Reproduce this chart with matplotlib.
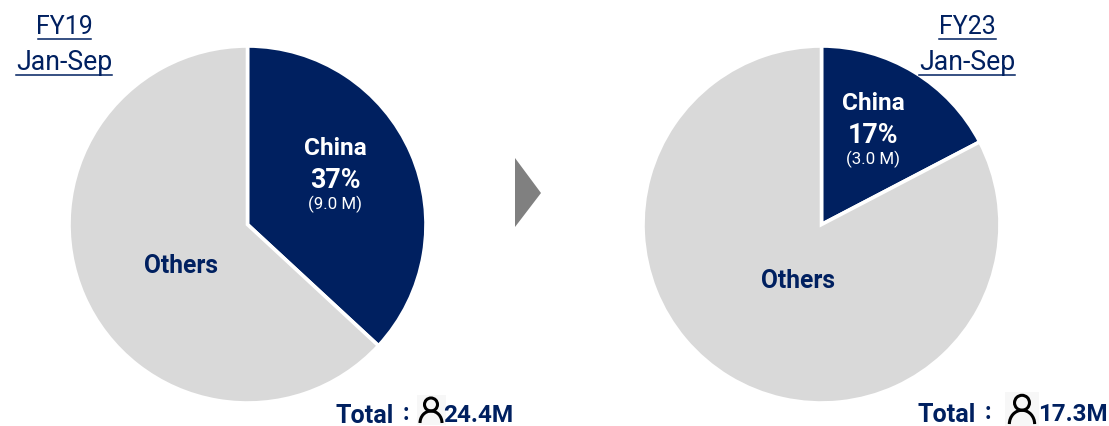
import matplotlib
matplotlib.use("Agg")
import matplotlib.pyplot as plt
from matplotlib.patches import Polygon, Circle, Rectangle, Arc
from matplotlib.lines import Line2D

W, H = 1109, 427
NAVY = "#002060"
GREY = "#D9D9D9"

# Visitors in millions, China first
periods = ["FY19", "FY23"]
sub_period = "Jan-Sep"
china_visitors = [9.0, 3.0]
other_visitors = [15.4, 14.3]
china_share = ["37%", "17%"]
china_count = ["(9.0 M)", "(3.0 M)"]
totals = ["24.4M", "17.3M"]

plt.rcParams["font.family"] = ["Roboto", "DejaVu Sans"]
fig = plt.figure(figsize=(W / 100, H / 100), dpi=100)


def fx(x):
    return x / W


def fy(y):
    return 1 - y / H


def pie_axes(cx, cy, r):
    ax = fig.add_axes([fx(cx - r), fy(cy + r), 2 * r / W, 2 * r / H])
    return ax


# Pie panels
for cx, china, other in zip((247.5, 821.5), china_visitors, other_visitors):
    ax = pie_axes(cx, 225.5, 178.5)
    ax.pie([china, other], colors=[NAVY, GREY], startangle=90, counterclock=False,
           radius=1.0, wedgeprops=dict(edgecolor="white", linewidth=2.6))
    ax.set_xlim(-1, 1)
    ax.set_ylim(-1, 1)
    ax.set_aspect("equal")
    ax.axis("off")

# Full-figure overlay measured in pixels for labels and furniture
ov = fig.add_axes([0, 0, 1, 1], facecolor="none")
ov.set_xlim(0, W)
ov.set_ylim(H, 0)
ov.axis("off")

# Period headings with underlines
for x, period, y_line1, y_line2, w1 in ((64, periods[0], 40, 76, 53),
                                       (967, periods[1], 40, 76, 57)):
    ov.text(x, 27, period, color=NAVY, fontsize=18, fontweight="normal",
            ha="center", va="center")
    ov.text(x, 63, sub_period, color=NAVY, fontsize=19.2, fontweight="normal",
            ha="center", va="center")
    ov.add_line(Line2D([x - w1 / 2, x + w1 / 2], [y_line1, y_line1], color=NAVY, lw=1.1))
    ov.add_line(Line2D([x - 48, x + 48], [y_line2, y_line2], color=NAVY, lw=1.1))

# Labels inside the slices
for x, y0, share, count in ((335, 149, china_share[0], china_count[0]),
                            (873, 104, china_share[1], china_count[1])):
    ov.text(x, y0, "China", color="white", fontsize=17.6, fontweight="bold",
            ha="center", va="center")
    ov.text(x, y0 + 32, share, color="white", fontsize=19.3, fontweight="bold",
            ha="center", va="center")
    ov.text(x, y0 + 55, count, color="white", fontsize=12.2,
            ha="center", va="center")

ov.text(181, 266, "Others", color=NAVY, fontsize=17.7, fontweight="bold", ha="center", va="center")
ov.text(798, 281, "Others", color=NAVY, fontsize=17.7, fontweight="bold", ha="center", va="center")

# Arrow between the two pies
ov.add_patch(Polygon([(515, 159), (541, 194), (515, 228)], closed=True,
                     facecolor="#808080", edgecolor="none"))


def person(cx, top, scale):
    """Outline person icon on a pale tile."""
    ov.add_patch(Rectangle((cx - 14.5 * scale, top - 1), 29 * scale, 30 * scale,
                           facecolor="#F7F7F7", edgecolor="none"))
    ov.add_patch(Circle((cx, top + 8.5 * scale), 6.5 * scale, facecolor="none",
                        edgecolor="black", lw=2.2))
    ov.add_patch(Arc((cx, top + 27 * scale), 22 * scale, 24 * scale, theta1=180, theta2=360,
                     edgecolor="black", lw=2.2))


# Totals under each pie
ov.text(336, 416, "Total", color=NAVY, fontsize=18, fontweight="bold", ha="left", va="center")
ov.text(406, 414, ":", color=NAVY, fontsize=17, fontweight="bold", ha="center", va="center")
person(431, 397, 1.0)
ov.text(443, 416, totals[0], color=NAVY, fontsize=17.6, fontweight="bold", ha="left", va="center")

ov.text(917, 415, "Total", color=NAVY, fontsize=18, fontweight="bold", ha="left", va="center")
ov.text(988, 413, ":", color=NAVY, fontsize=17, fontweight="bold", ha="center", va="center")
person(1022, 394, 1.15)
ov.text(1038.5, 415, totals[1], color=NAVY, fontsize=17.4, fontweight="bold", ha="left", va="center")

fig.savefig("out.png", dpi=100)
